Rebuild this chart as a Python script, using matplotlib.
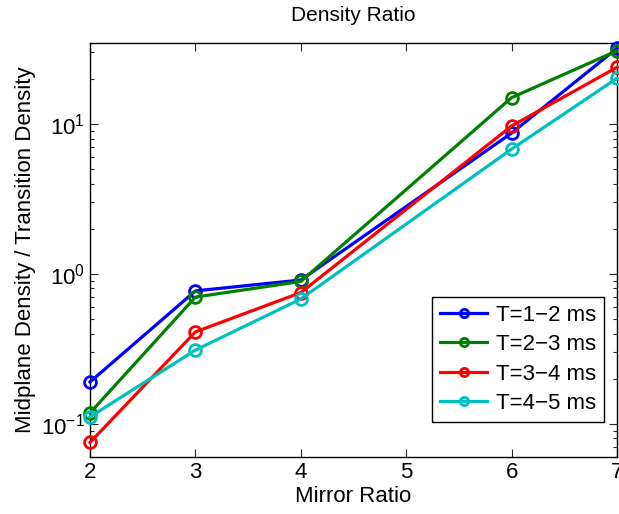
import matplotlib
matplotlib.use("Agg")
import matplotlib.pyplot as plt
from matplotlib.ticker import LogLocator, NullFormatter

plt.rcParams['font.family'] = ['Liberation Sans', 'DejaVu Sans']
plt.rcParams['mathtext.fontset'] = 'custom'
plt.rcParams['mathtext.rm'] = 'Liberation Sans'
plt.rcParams['mathtext.it'] = 'Liberation Sans'

mirror_ratio = [2, 3, 4, 6, 7]
series_labels = ["T=1\u22122 ms", "T=2\u22123 ms", "T=3\u22124 ms", "T=4\u22125 ms"]
ratio_t12 = [0.19, 0.77, 0.91, 8.7, 32.0]
ratio_t23 = [0.118, 0.70, 0.89, 15.0, 30.8]
ratio_t34 = [0.075, 0.41, 0.75, 9.7, 23.9]
ratio_t45 = [0.111, 0.31, 0.68, 6.8, 20.2]
series_colors = [(0, 0, 1), (0, 0.5, 0), (1, 0, 0), (0, 0.75, 0.75)]

fig = plt.figure(figsize=(6.19, 5.14), dpi=100)
ax = fig.add_axes([0.1454, 0.1109, 0.8514, 0.8054])

for vals, lab, col in zip([ratio_t12, ratio_t23, ratio_t34, ratio_t45],
                          series_labels, series_colors):
    ax.plot(mirror_ratio, vals, '-o', color=col, lw=2.3, ms=8.5,
            mfc='none', mew=2.0, label=lab, clip_on=False, zorder=3)

ax.set_yscale('log')
ax.set_xlim(2, 7)
ax.set_ylim(0.06, 34.7)
ax.set_xticks([2, 3, 4, 5, 6, 7])
ax.yaxis.set_major_locator(LogLocator(base=10, numticks=10))
ax.yaxis.set_minor_locator(LogLocator(base=10, subs=range(2, 10), numticks=20))
ax.yaxis.set_minor_formatter(NullFormatter())

ax.tick_params(which='both', direction='in', top=True, right=True,
               labelsize=16, width=0.8, color='#262626')
ax.tick_params(which='major', length=6)
ax.tick_params(which='minor', length=3)
for s in ax.spines.values():
    s.set_linewidth(1.0)

ax.set_title("Density Ratio", fontsize=15, pad=16)
ax.set_xlabel("Mirror Ratio", fontsize=16, labelpad=2)
ax.set_ylabel("Midplane Density / Transition Density", fontsize=16, labelpad=4)

leg = ax.legend(loc='lower right', bbox_to_anchor=(0.975, 0.085),
                borderaxespad=0, fontsize=16, fancybox=False, framealpha=1,
                edgecolor='black', markerscale=0.7, handlelength=2.1,
                handletextpad=0.4, labelspacing=0.38, borderpad=0.35)
leg.get_frame().set_linewidth(1.0)

fig.savefig("out.png", dpi=100)
